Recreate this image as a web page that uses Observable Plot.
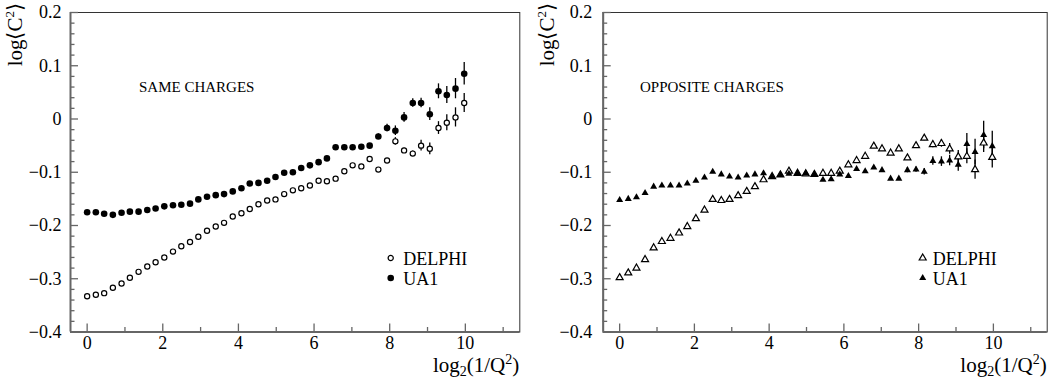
<!DOCTYPE html>
<html><head><meta charset="utf-8">
<script src="https://cdn.jsdelivr.net/npm/d3@7"></script>
<script src="https://cdn.jsdelivr.net/npm/@observablehq/plot@0.6"></script>
<style>
body{margin:0;background:#fff;}
#wrap{display:flex;width:1052px;height:380px;}
#wrap svg{display:block;}
#wrap svg, #wrap svg text{font-family:"Liberation Serif","Times New Roman",serif !important;}
</style></head><body><div id="wrap"></div>
<script>
// x bins: log2(1/Q^2)
const xBins = [0,0.23,0.45,0.68,0.91,1.13,1.36,1.59,1.81,2.04,2.27,2.49,2.72,2.94,3.17,3.40,3.62,3.85,4.08,4.30,4.53,4.76,4.98,5.21,5.44,5.66,5.89,6.12,6.34,6.57,6.80,7.02,7.25,7.47,7.70,7.93,8.15,8.38,8.61,8.83,9.06,9.29,9.51,9.74,9.97];

// SAME CHARGES
const sameDelphi = [-0.333,-0.330,-0.327,-0.317,-0.309,-0.298,-0.287,-0.277,-0.269,-0.260,-0.249,-0.239,-0.231,-0.221,-0.210,-0.202,-0.195,-0.183,-0.177,-0.169,-0.160,-0.153,-0.151,-0.141,-0.134,-0.130,-0.125,-0.116,-0.117,-0.112,-0.098,-0.087,-0.089,-0.075,-0.095,-0.078,-0.042,-0.059,-0.065,-0.050,-0.056,-0.017,-0.007,0.003,0.030];
const sameDelphiErr = [0,0,0,0,0,0,0,0,0,0,0,0,0,0,0,0,0,0,0,0,0,0,0,0,0,0,0,0,0,0,0,0,0,0,0.004,0.004,0.007,0.004,0.005,0.010,0.011,0.012,0.015,0.018,0.018];
const sameUA1 = [-0.175,-0.175,-0.178,-0.180,-0.176,-0.174,-0.174,-0.171,-0.168,-0.164,-0.162,-0.161,-0.159,-0.151,-0.146,-0.143,-0.141,-0.136,-0.130,-0.121,-0.120,-0.116,-0.109,-0.101,-0.100,-0.092,-0.087,-0.081,-0.074,-0.053,-0.053,-0.053,-0.052,-0.050,-0.033,-0.017,-0.022,0.003,0.030,0.030,0.009,0.052,0.045,0.057,0.085];
const sameUA1Err = [0,0,0,0,0,0,0,0,0,0,0,0,0,0,0,0,0,0,0,0,0,0,0,0,0,0,0,0,0,0,0,0,0,0,0.005,0.007,0.009,0.009,0.008,0.009,0.012,0.014,0.016,0.019,0.021];

// OPPOSITE CHARGES
const oppDelphi = [-0.298,-0.289,-0.280,-0.264,-0.242,-0.230,-0.224,-0.214,-0.202,-0.187,-0.171,-0.151,-0.153,-0.151,-0.144,-0.136,-0.127,-0.114,-0.108,-0.105,-0.098,-0.102,-0.103,-0.104,-0.102,-0.102,-0.098,-0.086,-0.078,-0.070,-0.051,-0.056,-0.064,-0.056,-0.073,-0.050,-0.036,-0.048,-0.046,-0.056,-0.071,-0.070,-0.095,-0.045,-0.072];
const oppDelphiErr = [0,0,0,0,0,0,0,0,0,0,0,0,0,0,0,0,0,0,0,0,0,0,0,0,0,0,0,0,0,0,0,0,0,0,0,0.004,0.005,0.006,0.007,0.010,0.012,0.014,0.018,0.018,0.020];
const oppUA1 = [-0.152,-0.150,-0.147,-0.139,-0.127,-0.125,-0.125,-0.125,-0.121,-0.116,-0.110,-0.099,-0.104,-0.108,-0.110,-0.106,-0.104,-0.102,-0.108,-0.105,-0.103,-0.102,-0.102,-0.104,-0.114,-0.113,-0.104,-0.107,-0.094,-0.098,-0.091,-0.096,-0.112,-0.112,-0.096,-0.095,-0.099,-0.079,-0.080,-0.078,-0.086,-0.047,-0.062,-0.030,-0.051];
const oppUA1Err = [0,0,0,0,0,0,0,0,0,0,0,0,0,0,0,0,0,0,0,0,0,0,0,0,0,0,0,0,0,0,0,0,0,0,0.005,0.005,0.006,0.008,0.009,0.010,0.012,0.020,0.024,0.026,0.028];

// axes
const xDomain = [-0.44, 11.44];
const yDomain = [-0.4, 0.2];
const xTicks = [0,2,4,6,8,10];
const xMinor = [1,3,5,7,9,11];
const yTicks = [0.2,0.1,0,-0.1,-0.2,-0.3,-0.4];
const yMinor = d3.range(-19,10).map(i=>i*0.02).filter(v=>Math.abs(Math.round(v*10)-v*10)>1e-6);
const seriesNames = ["DELPHI","UA1"];

const H = 380, MT = 12, MB = 48.5;

function rows(vals, errs){ return vals.map((v,i)=>({x:xBins[i], y:v, e:errs[i]})); }

function panel(cfg){
  const {width, marginLeft, marginRight, title, delphi, ua1, symbol, tickPad, titleX, legendX, legendTextDx} = cfg;
  const fw = width - marginLeft - marginRight;
  const fh = H - MT - MB;
  const d = rows(delphi.v, delphi.e), u = rows(ua1.v, ua1.e);
  const isTri = symbol === "triangle";
  const rOpen = isTri ? 2.6 : 2.6, rFill = isTri ? 2.6 : 3.3;
  const axisCol = "#666";
  const p = Plot.plot({
    width, height: H, marginTop: MT, marginBottom: MB, marginLeft, marginRight,
    x: {domain: xDomain}, y: {domain: yDomain},
    style: {fontSize: "18px", background: "white", color: "black"},
    marks: [
      Plot.frame({stroke: "#333", strokeWidth: 1}),
      Plot.ruleX([xDomain[0]], {stroke: axisCol, strokeWidth: 2}),
      Plot.ruleY([yDomain[0]], {stroke: axisCol, strokeWidth: 2}),
      Plot.tickY(yTicks, {y: v=>v, insetRight: fw - 8, stroke: axisCol, strokeWidth: 1.3}),
      Plot.tickY(yMinor, {y: v=>v, insetRight: fw - 4.5, stroke: axisCol, strokeWidth: 1.3}),
      Plot.tickX(xTicks, {x: v=>v, insetTop: fh - 8, stroke: axisCol, strokeWidth: 1.3}),
      Plot.tickX(xMinor, {x: v=>v, insetTop: fh - 4.5, stroke: axisCol, strokeWidth: 1.3}),
      Plot.axisY({ticks: yTicks, tickSize: 0, tickPadding: tickPad, label: null, fontSize: 18,
        tickFormat: v => v === 0 ? "0" : d3.format(".1f")(v)}),
      Plot.axisX({ticks: xTicks, tickSize: 0, tickPadding: 4, label: null, fontSize: 18}),
      Plot.ruleX(d.filter(r=>r.e>0), {x:"x", y1: r=>r.y-r.e, y2: r=>r.y+r.e, stroke:"black", strokeWidth:1.3}),
      Plot.ruleX(u.filter(r=>r.e>0), {x:"x", y1: r=>r.y-r.e, y2: r=>r.y+r.e, stroke:"black", strokeWidth:1.3}),
      Plot.dot(d, {x:"x", y:"y", symbol, r: rOpen, fill:"white", stroke:"black", strokeWidth:1.2}),
      Plot.dot(u, {x:"x", y:"y", symbol, r: rFill, fill:"black", stroke:"none"})
    ]
  });
  const svg = d3.select(p);
  const fr = marginLeft + fw;
  const addText = (x, y, size) => svg.append("text").attr("x", x).attr("y", y)
    .attr("text-anchor", "start").attr("font-size", size).attr("fill", "black");
  // y label
  const yl = svg.append("text").attr("transform", `translate(${cfg.yLabelX},3) rotate(-90)`)
    .attr("text-anchor","end").attr("font-size", 21).attr("fill","black");
  yl.append("tspan").text("log\u27E8C");
  yl.append("tspan").attr("font-size", 13).attr("dy", -8).text("2");
  yl.append("tspan").attr("dy", 8).text("\u27E9");
  // x label
  const xl = svg.append("text").attr("x", fr).attr("y", 372).attr("text-anchor","end")
    .attr("font-size", 21).attr("fill","black");
  xl.append("tspan").text("log");
  xl.append("tspan").attr("font-size", 14).attr("dy", 4).text("2");
  xl.append("tspan").attr("dy", -4).text("(1/Q");
  xl.append("tspan").attr("font-size", 14).attr("dy", -8).text("2");
  xl.append("tspan").attr("dy", 8).text(")");
  // title
  addText(titleX, 92, 15).text(title);
  // legend
  const sym = d3.symbol().type(isTri ? d3.symbolTriangle : d3.symbolCircle);
  const entries = [{name: seriesNames[0], open: true, y: 258}, {name: seriesNames[1], open: false, y: 278}];
  entries.forEach(en => {
    const r = en.open ? rOpen : rFill;
    svg.append("path").attr("d", sym.size(Math.PI*r*r)())
      .attr("transform", `translate(${legendX},${en.y})`)
      .attr("fill", en.open ? "white" : "black").attr("stroke", en.open ? "black" : "none").attr("stroke-width", 1.2);
    addText(legendX + legendTextDx, en.y + 6.5, 18).text(en.name);
  });
  return p;
}

const wrap = document.getElementById("wrap");
wrap.appendChild(panel({width: 526, marginLeft: 70, marginRight: 6.7, title: "SAME CHARGES",
  delphi: {v: sameDelphi, e: sameDelphiErr}, ua1: {v: sameUA1, e: sameUA1Err},
  symbol: "circle", tickPad: 9, titleX: 139, legendX: 390.7, legendTextDx: 12.5, yLabelX: 22}));
wrap.appendChild(panel({width: 526, marginLeft: 76.7, marginRight: 5.3, title: "OPPOSITE CHARGES",
  delphi: {v: oppDelphi, e: oppDelphiErr}, ua1: {v: oppUA1, e: oppUA1Err},
  symbol: "triangle", tickPad: 11, titleX: 114, legendX: 396.7, legendTextDx: 10, yLabelX: 28}));
</script></body></html>
